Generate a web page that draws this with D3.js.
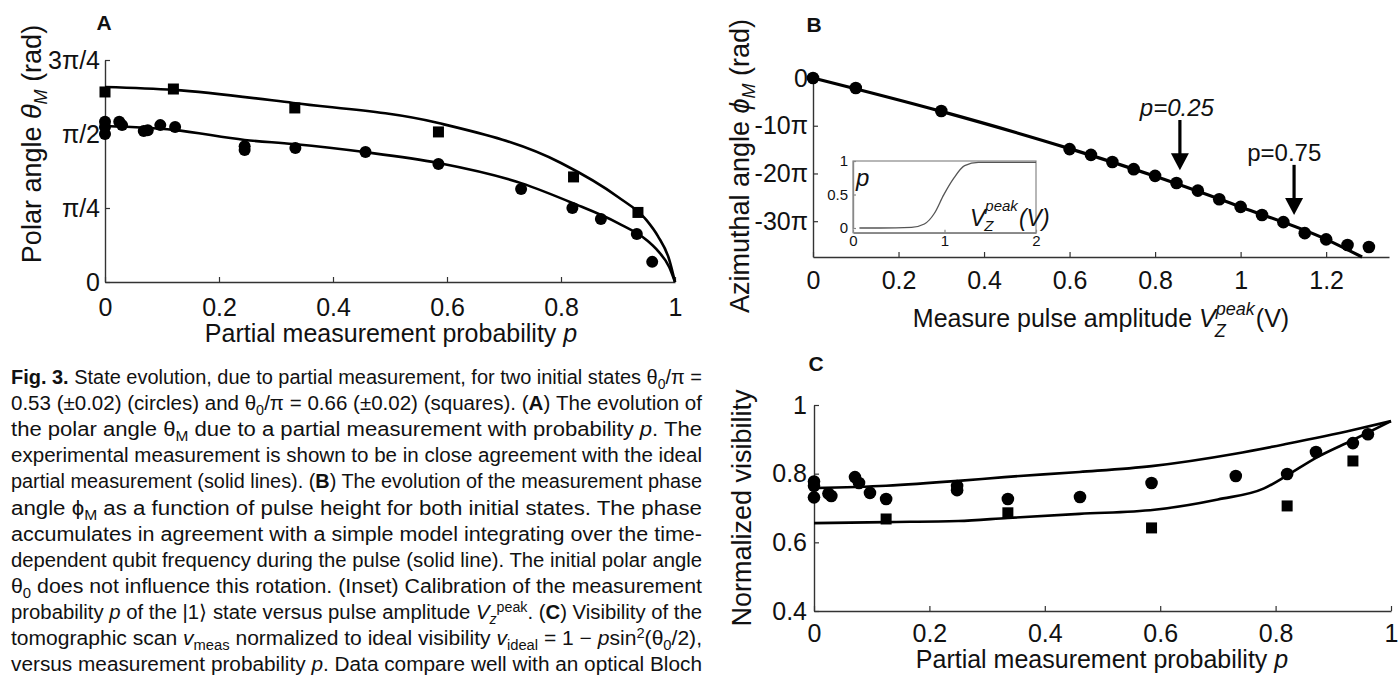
<!DOCTYPE html>
<html>
<head>
<meta charset="utf-8">
<script src="https://cdn.jsdelivr.net/npm/d3@7"></script>
<style>
  body { margin: 0; background: #fff; overflow: hidden; }
  svg text { font-family: "Liberation Sans", Arial, sans-serif; fill: #111; }
</style>
</head>
<body>
<script>
// ---- panel A : polar angle (units of pi) vs p
var aCircP  = [0, 0, 0, 0.025, 0.03, 0.068, 0.075, 0.097, 0.123, 0.245, 0.245, 0.334, 0.457, 0.585, 0.73, 0.82, 0.87, 0.933, 0.96];
var aCircTh = [0.541, 0.524, 0.500, 0.541, 0.530, 0.510, 0.513, 0.530, 0.524, 0.459, 0.446, 0.453, 0.439, 0.399, 0.314, 0.250, 0.213, 0.162, 0.068];
var aSqP  = [0, 0.12, 0.333, 0.585, 0.822, 0.935];
var aSqTh = [0.642, 0.652, 0.588, 0.507, 0.355, 0.235];
var aFitSqP  = [0, 0.12, 0.33, 0.585, 0.8, 0.9, 0.95, 0.97, 0.99, 1];
var aFitSq   = [0.659, 0.649, 0.605, 0.537, 0.402, 0.287, 0.209, 0.155, 0.075, 0];
var aFitCircP = [0, 0.12, 0.245, 0.33, 0.455, 0.585, 0.73, 0.82, 0.9, 0.95, 0.97, 0.99, 1];
var aFitCirc  = [0.527, 0.514, 0.480, 0.466, 0.439, 0.402, 0.334, 0.267, 0.199, 0.142, 0.105, 0.05, 0];
var aXTicks = [0, 0.2, 0.4, 0.6, 0.8, 1];
var aYTicks = [0, 0.25, 0.5, 0.75];
var aYLabels = ["0", "\u03c0/4", "\u03c0/2", "3\u03c0/4"];

// ---- panel B : azimuthal angle (units of pi) vs pulse amplitude
var bV   = [0, 0.1, 0.3, 0.6, 0.65, 0.7, 0.75, 0.8, 0.85, 0.9, 0.95, 1.0, 1.05, 1.1, 1.15, 1.2, 1.25, 1.3];
var bPhi = [0, -2.1, -6.9, -14.9, -16.1, -17.6, -19.1, -20.5, -22.0, -23.6, -25.4, -27.0, -28.7, -30.2, -32.5, -33.8, -35.0, -35.4];
var bFitV   = [0, 0.3, 0.6, 0.8, 1.0, 1.2, 1.284];
var bFitPhi = [0, -7.0, -14.8, -20.6, -27.0, -33.8, -37.5];
var bXTicks = [0, 0.2, 0.4, 0.6, 0.8, 1, 1.2];
var bYTicks = [0, -10, -20, -30];
var bYLabels = ["0", "-10\u03c0", "-20\u03c0", "-30\u03c0"];
var arrowV = [0.858, 1.125];
var arrowFrom = [-8.8, -18.2];
var arrowTo = [-19.3, -28.7];
var arrowLabelV = [0.851, 1.102];
var arrowLabel = ["p=0.25", "p=0.75"];

// ---- inset : calibration p vs V
var insetV = [0.07, 0.3, 0.64, 0.78, 0.89, 0.99, 1.1, 1.22, 1.37, 1.6, 2.0];
var insetP = [0.0, 0.0, 0.01, 0.06, 0.22, 0.49, 0.74, 0.93, 0.98, 0.98, 0.98];
var iXTicks = [0, 1, 2];
var iYTicks = [0, 0.5, 1];

// ---- panel C : normalized visibility vs p
var cCircP = [0, 0, 0, 0.025, 0.03, 0.071, 0.078, 0.097, 0.125, 0.248, 0.248, 0.336, 0.461, 0.585, 0.731, 0.82, 0.87, 0.934, 0.96];
var cCircV = [0.777, 0.765, 0.731, 0.742, 0.735, 0.79, 0.773, 0.744, 0.726, 0.764, 0.752, 0.726, 0.732, 0.773, 0.793, 0.799, 0.863, 0.889, 0.915];
var cSqP = [0.125, 0.336, 0.585, 0.82, 0.934];
var cSqV = [0.668, 0.686, 0.642, 0.706, 0.837];
var cFitUpP = [0, 0.125, 0.25, 0.33, 0.46, 0.585, 0.73, 0.82, 0.934, 1];
var cFitUp  = [0.758, 0.765, 0.779, 0.79, 0.805, 0.822, 0.858, 0.887, 0.927, 0.953];
var cFitLoP = [0, 0.125, 0.25, 0.336, 0.46, 0.59, 0.7, 0.78, 0.82, 0.87, 0.934, 1];
var cFitLo  = [0.656, 0.659, 0.662, 0.671, 0.683, 0.695, 0.725, 0.757, 0.795, 0.846, 0.898, 0.953];
var cXTicks = [0, 0.2, 0.4, 0.6, 0.8, 1];
var cYTicks = [0.4, 0.6, 0.8, 1];

// ---- caption lines: [text, style]
var caption = [
  [["Fig. 3.", "b"], [" State evolution, due to partial measurement, for two initial states \u03b8", ""], ["0", "sub"], ["/\u03c0 =", ""]],
  [["0.53 (\u00b10.02) (circles) and \u03b8", ""], ["0", "sub"], ["/\u03c0 = 0.66 (\u00b10.02) (squares). (", ""], ["A", "b"], [") The evolution of", ""]],
  [["the polar angle \u03b8", ""], ["M", "sub"], [" due to a partial measurement with probability ", ""], ["p", "i"], [". The", ""]],
  [["experimental measurement is shown to be in close agreement with the ideal", ""]],
  [["partial measurement (solid lines). (", ""], ["B", "b"], [") The evolution of the measurement phase", ""]],
  [["angle \u03d5", ""], ["M", "sub"], [" as a function of pulse height for both initial states. The phase", ""]],
  [["accumulates in agreement with a simple model integrating over the time-", ""]],
  [["dependent qubit frequency during the pulse (solid line). The initial polar angle", ""]],
  [["\u03b8", ""], ["0", "sub"], [" does not influence this rotation. (Inset) Calibration of the measurement", ""]],
  [["probability ", ""], ["p", "i"], [" of the |1\u27e9 state versus pulse amplitude ", ""], ["V", "i"], ["z", "isub"], ["peak", "sup"], [". (", ""], ["C", "b"], [") Visibility of the", ""]],
  [["tomographic scan ", ""], ["v", "i"], ["meas", "sub"], [" normalized to ideal visibility ", ""], ["v", "i"], ["ideal", "sub"], [" = 1 \u2212 ", ""], ["p", "i"], ["sin", ""], ["2", "sup"], ["(\u03b8", ""], ["0", "sub"], ["/2),", ""]],
  [["versus measurement probability ", ""], ["p", "i"], [". Data compare well with an optical Bloch", ""]]
];

var width = 1398, height = 675;
var svg = d3.select("body").append("svg").attr("width", width).attr("height", height);

function styleAxis(g, fs) {
  g.attr("font-size", fs).attr("font-family", null);
  g.select(".domain").attr("stroke", "#333").attr("stroke-width", 1.4);
  g.selectAll(".tick line").attr("stroke", "#333").attr("stroke-width", 1.2);
  g.selectAll(".tick text").attr("fill", "#111");
}

function dots(g, xs, ys, x, y, r) {
  g.selectAll(null).data(d3.zip(xs, ys)).join("circle")
    .attr("cx", function (d) { return x(d[0]); })
    .attr("cy", function (d) { return y(d[1]); })
    .attr("r", r).attr("fill", "#000");
}
function squares(g, xs, ys, x, y, s) {
  g.selectAll(null).data(d3.zip(xs, ys)).join("rect")
    .attr("x", function (d) { return x(d[0]) - s / 2; })
    .attr("y", function (d) { return y(d[1]) - s / 2; })
    .attr("width", s).attr("height", s).attr("fill", "#000");
}
function curve(g, xs, ys, x, y, w) {
  var line = d3.line().x(function (d) { return x(d[0]); }).y(function (d) { return y(d[1]); })
    .curve(d3.curveMonotoneX);
  g.append("path").datum(d3.zip(xs, ys)).attr("d", line)
    .attr("fill", "none").attr("stroke", "#000").attr("stroke-width", w);
}
// V_Z^peak style label, stacked sub/superscript
function vPeak(parent, x0, by, fs, fsSmall, pre, post, supDy, subDy, subDx, align, postItalic) {
  var g = parent.append("g");
  var t = g.append("text").attr("y", by).attr("font-size", fs);
  t.append("tspan").text(pre);
  t.append("tspan").attr("font-style", "italic").text("V");
  var w1 = t.node().getComputedTextLength();
  var sup = g.append("text").attr("x", w1).attr("y", by + supDy).attr("font-size", fsSmall)
    .attr("font-style", "italic").text("peak");
  var ws = sup.node().getComputedTextLength();
  g.append("text").attr("x", w1 + subDx).attr("y", by + subDy).attr("font-size", fsSmall)
    .attr("font-style", "italic").text("Z");
  var p = g.append("text").attr("x", w1 + ws + 1).attr("y", by).attr("font-size", fs)
    .attr("font-style", postItalic ? "italic" : "normal").text(post);
  var total = w1 + ws + 1 + p.node().getComputedTextLength();
  g.attr("transform", "translate(" + (align === "middle" ? x0 - total / 2 : x0) + ",0)");
}

// ================= Panel A =================
var xA = d3.scaleLinear([0, 1], [105, 675]);
var yA = d3.scaleLinear([0, 0.75], [282, 60]);
var gA = svg.append("g");
gA.append("g").attr("transform", "translate(0," + yA(0) + ")")
  .call(d3.axisBottom(xA).tickValues(aXTicks).tickFormat(function (d) { return String(d); })
    .tickSizeInner(-5).tickSizeOuter(0).tickPadding(16))
  .call(styleAxis, 25);
gA.append("g").attr("transform", "translate(" + xA(0) + ",0)")
  .call(d3.axisLeft(yA).tickValues(aYTicks).tickFormat(function (d, i) { return aYLabels[i]; })
    .tickSizeInner(-5).tickSizeOuter(0).tickPadding(5))
  .call(styleAxis, 25);
curve(gA, aFitSqP, aFitSq, xA, yA, 2.6);
curve(gA, aFitCircP, aFitCirc, xA, yA, 2.6);
dots(gA, aCircP, aCircTh, xA, yA, 6);
squares(gA, aSqP, aSqTh, xA, yA, 11);
gA.append("text").attr("x", 104).attr("y", 30).attr("text-anchor", "middle")
  .attr("font-size", 21).attr("font-weight", "bold").text("A");
var tA = gA.append("text").attr("transform", "translate(41,144) rotate(-90)")
  .attr("text-anchor", "middle").attr("font-size", 27);
tA.append("tspan").text("Polar angle ");
tA.append("tspan").attr("font-style", "italic").text("\u03b8");
tA.append("tspan").attr("font-style", "italic").attr("font-size", 18).attr("baseline-shift", -6).text("M");
tA.append("tspan").text(" (rad)");
var xtA = gA.append("text").attr("x", 391).attr("y", 342).attr("text-anchor", "middle").attr("font-size", 25);
xtA.append("tspan").text("Partial measurement probability ");
xtA.append("tspan").attr("font-style", "italic").text("p");

// ================= Panel B =================
var xB = d3.scaleLinear([0, 1.347], [813, 1389]);
var yB = d3.scaleLinear([-37.5, 0], [257, 78]);
var gB = svg.append("g");
gB.append("g").attr("transform", "translate(0," + yB(-37.5) + ")")
  .call(d3.axisBottom(xB).tickValues(bXTicks).tickFormat(function (d) { return String(d); })
    .tickSizeInner(-5).tickSizeOuter(0).tickPadding(14))
  .call(styleAxis, 25);
gB.append("g").attr("transform", "translate(" + xB(0) + ",0)")
  .call(d3.axisLeft(yB).tickValues(bYTicks).tickFormat(function (d, i) { return bYLabels[i]; })
    .tickSizeInner(-5).tickSizeOuter(0).tickPadding(5))
  .call(styleAxis, 25);
curve(gB, bFitV, bFitPhi, xB, yB, 3.2);
dots(gB, bV, bPhi, xB, yB, 6.3);
gB.append("text").attr("x", 814).attr("y", 32).attr("text-anchor", "middle")
  .attr("font-size", 21).attr("font-weight", "bold").text("B");
var tB = gB.append("text").attr("transform", "translate(749,166) rotate(-90)")
  .attr("text-anchor", "middle").attr("font-size", 27);
tB.append("tspan").text("Azimuthal angle ");
tB.append("tspan").attr("font-style", "italic").text("\u03d5");
tB.append("tspan").attr("font-style", "italic").attr("font-size", 18).attr("baseline-shift", -6).text("M");
tB.append("tspan").text(" (rad)");
vPeak(gB, 1101, 327, 25, 18, "Measure pulse amplitude ", "(V)", -12, 10, -1, "middle", false);

// arrows
arrowV.forEach(function (v, i) {
  var x = xB(v), y0 = yB(arrowFrom[i]), y1 = yB(arrowTo[i]);
  gB.append("line").attr("x1", x).attr("x2", x).attr("y1", y0).attr("y2", y1 - 14)
    .attr("stroke", "#000").attr("stroke-width", 3.2);
  gB.append("path").attr("d", "M" + (x - 9) + "," + (y1 - 17) + "L" + (x + 9) + "," + (y1 - 17) + "L" + x + "," + y1 + "Z")
    .attr("fill", "#000");
  gB.append("text").attr("x", xB(arrowLabelV[i])).attr("y", y0 - 4).attr("text-anchor", "middle")
    .attr("font-size", 24).attr("font-style", i === 0 ? "italic" : "normal").text(arrowLabel[i]);
});

// inset
var xI = d3.scaleLinear([0, 2], [853, 1036]);
var yI = d3.scaleLinear([0, 1], [228, 161]);
var gI = svg.append("g");
gI.append("rect").attr("x", xI(0)).attr("y", yI(1)).attr("width", xI(2) - xI(0)).attr("height", yI(-0.07) - yI(1))
  .attr("fill", "#fff").attr("stroke", "#888").attr("stroke-width", 1.2);
gI.append("g").attr("transform", "translate(0," + yI(-0.07) + ")")
  .call(d3.axisBottom(xI).tickValues(iXTicks).tickFormat(function (d) { return String(d); })
    .tickSizeInner(-3).tickSizeOuter(0).tickPadding(3))
  .call(styleAxis, 15);
gI.append("g").attr("transform", "translate(" + xI(0) + ",0)")
  .call(d3.axisLeft(yI).tickValues(iYTicks).tickFormat(function (d) { return String(d); })
    .tickSizeInner(-3).tickSizeOuter(0).tickPadding(5))
  .call(styleAxis, 15);
gI.selectAll(".domain, .tick line").attr("stroke", "#888");
gI.selectAll(".tick text").attr("fill", "#333");
var iline = d3.line().x(function (d) { return xI(d[0]); }).y(function (d) { return yI(d[1]); }).curve(d3.curveMonotoneX);
gI.append("path").datum(d3.zip(insetV, insetP)).attr("d", iline)
  .attr("fill", "none").attr("stroke", "#555").attr("stroke-width", 1.3);
gI.append("text").attr("x", 856).attr("y", 186).attr("font-size", 24).attr("font-style", "italic").text("p");
vPeak(gI, 970, 226, 23, 15, "", " (V)", -15, 5, -1, "start", true);

// ================= Panel C =================
var xC = d3.scaleLinear([0, 1], [814, 1391]);
var yC = d3.scaleLinear([0.4, 1], [611, 405]);
var gC = svg.append("g");
gC.append("g").attr("transform", "translate(0," + yC(0.4) + ")")
  .call(d3.axisBottom(xC).tickValues(cXTicks).tickFormat(function (d) { return String(d); })
    .tickSizeInner(-5).tickSizeOuter(0).tickPadding(13))
  .call(styleAxis, 25);
gC.append("g").attr("transform", "translate(" + xC(0) + ",0)")
  .call(d3.axisLeft(yC).tickValues(cYTicks).tickFormat(function (d) { return String(d); })
    .tickSizeInner(-5).tickSizeOuter(0).tickPadding(7))
  .call(styleAxis, 25);
curve(gC, cFitUpP, cFitUp, xC, yC, 2.6);
curve(gC, cFitLoP, cFitLo, xC, yC, 2.6);
dots(gC, cCircP, cCircV, xC, yC, 6.3);
squares(gC, cSqP, cSqV, xC, yC, 11);
gC.append("text").attr("x", 816).attr("y", 371).attr("text-anchor", "middle")
  .attr("font-size", 21).attr("font-weight", "bold").text("C");
gC.append("text").attr("transform", "translate(751,508) rotate(-90)")
  .attr("text-anchor", "middle").attr("font-size", 27).text("Normalized visibility");
var xtC = gC.append("text").attr("x", 1102).attr("y", 668).attr("text-anchor", "middle").attr("font-size", 25);
xtC.append("tspan").text("Partial measurement probability ");
xtC.append("tspan").attr("font-style", "italic").text("p");

// ================= Caption =================
var gT = svg.append("g");
caption.forEach(function (line, i) {
  var t = gT.append("text").attr("x", 11).attr("y", 384 + i * 26.1).attr("font-size", 20)
    .attr("textLength", 691).attr("lengthAdjust", "spacingAndGlyphs");
  line.forEach(function (seg) {
    var s = t.append("tspan").text(seg[0]);
    var st = seg[1];
    if (st === "b") s.attr("font-weight", "bold");
    if (st === "i" || st === "isub") s.attr("font-style", "italic");
    if (st === "sub" || st === "isub") s.attr("font-size", 14).attr("baseline-shift", -5);
    if (st === "sup") s.attr("font-size", 14).attr("baseline-shift", 7);
  });
});
</script>
</body>
</html>
